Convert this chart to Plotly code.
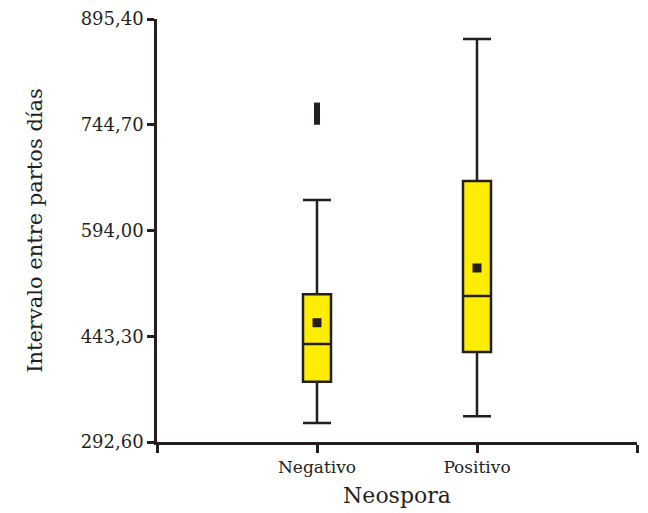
import plotly.graph_objects as go

categories = ["Negativo", "Positivo"]
lower_whisker = [319.7, 329.2]
q1 = [378.5, 420.9]
median = [432.3, 500.7]
q3 = [503.1, 664.5]
upper_whisker = [637.5, 866.9]
means = [462.6, 540.6]
outlier_cat = ["Negativo"] * 5
outlier_vals = [749.0, 755.0, 760.0, 766.0, 772.0]

y_tick_vals = [292.6, 443.3, 594.0, 744.7, 895.4]
y_tick_text = ["292,60", "443,30", "594,00", "744,70", "895,40"]

pos = {c: i for i, c in enumerate(categories)}
xpos = [pos[c] for c in categories]

dark = "#231F20"
yellow = "#FFED00"

fig = go.Figure()
fig.add_trace(go.Box(
    x=xpos, q1=q1, median=median, q3=q3,
    lowerfence=lower_whisker, upperfence=upper_whisker,
    fillcolor=yellow, line=dict(color=dark, width=2.5),
    width=0.175, whiskerwidth=1, boxpoints=False, showlegend=False,
    hoverinfo="skip",
))
fig.add_trace(go.Scatter(
    x=xpos, y=means, mode="markers",
    marker=dict(symbol="square", size=9, color=dark),
    showlegend=False,
))
fig.add_trace(go.Scatter(
    x=[pos[c] for c in outlier_cat], y=outlier_vals, mode="markers",
    marker=dict(symbol="square", size=6, color=dark),
    showlegend=False,
))

font_family = "DejaVu Serif, Liberation Serif, serif"
fig.update_layout(
    width=640, height=505,
    margin=dict(l=149, r=11, t=11, b=71),
    plot_bgcolor="white", paper_bgcolor="white",
    font=dict(family=font_family, color=dark, size=17),
    xaxis=dict(
        range=[-1, 2], tickvals=[-1, 0, 1, 2],
        ticktext=["", categories[0], categories[1], ""],
        showgrid=False, zeroline=False, automargin=False,
        showline=True, linecolor=dark, linewidth=2.5,
        ticks="outside", ticklen=8, tickwidth=2.5, tickcolor=dark,
        title=dict(text="Neospora", font=dict(size=22), standoff=12),
        tickfont=dict(size=17),
    ),
    yaxis=dict(
        range=[292.6, 895.4], tickvals=y_tick_vals, ticktext=y_tick_text,
        showgrid=False, zeroline=False, automargin=False,
        showline=True, linecolor=dark, linewidth=2.5,
        ticks="outside", ticklen=7, tickwidth=2.5, tickcolor=dark,
        title=dict(text="Intervalo entre partos días", font=dict(size=21), standoff=33),
        tickfont=dict(size=18),
    ),
)

fig.write_html("out.html")
